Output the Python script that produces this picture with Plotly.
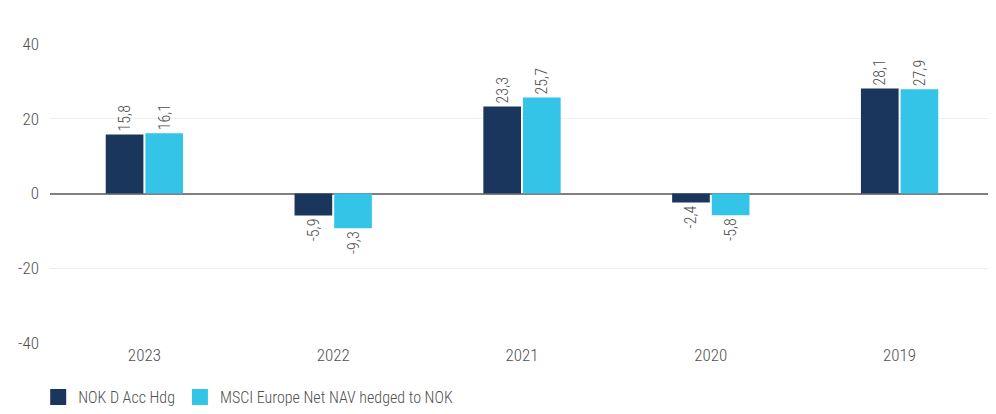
import plotly.graph_objects as go

years = ["2023", "2022", "2021", "2020", "2019"]
fund_name = "NOK D Acc Hdg"
bench_name = "MSCI Europe Net NAV hedged to NOK"
fund_vals = [15.8, -5.9, 23.3, -2.4, 28.1]
bench_vals = [16.1, -9.3, 25.7, -5.8, 27.9]
y_ticks = [-40, -20, 0, 20, 40]
y_tick_text = ["-40", "-20", "0", "20", "40"]

dark = "#1b365d"
light = "#33c4e8"
font_fam = "Roboto Condensed, Liberation Sans Narrow, DejaVu Sans Condensed, Roboto, sans-serif"
txt_col = "#505050"

fig = go.Figure()
for name, vals, col in [(fund_name, fund_vals, dark), (bench_name, bench_vals, light)]:
    fig.add_trace(go.Bar(
        x=years, y=vals, name=name, marker_color=col, marker_line_width=0,
        texttemplate="%{y:.1f}", textposition="outside", textangle=-90,
        textfont=dict(color=txt_col, size=16, family=font_fam, weight=300),
        cliponaxis=False, showlegend=False,
    ))
    fig.add_trace(go.Scatter(
        x=[None], y=[None], mode="markers", name=name,
        marker=dict(symbol="square", size=17, color=col),
    ))

fig.update_layout(
    width=988, height=406,
    margin=dict(l=42, r=1.5, t=36, b=71),
    paper_bgcolor="white", plot_bgcolor="white",
    separators=",.",
    barmode="group", bargap=0.58, bargroupgap=0.05,
    font=dict(family=font_fam, color=txt_col, size=16, weight=300),
    legend=dict(orientation="h", x=-0.0125, xanchor="left",
                yref="container", y=0.0, yanchor="bottom",
                font=dict(size=16, color=txt_col, weight=300), itemwidth=30),
    xaxis=dict(showgrid=False, showline=False, ticks="",
               tickfont=dict(size=17, color=txt_col, weight=300)),
    yaxis=dict(range=[-40, 40], tickvals=y_ticks, ticktext=y_tick_text, showgrid=True,
               gridcolor="#eeeeee", gridwidth=1, zeroline=True, zerolinecolor="#808080",
               zerolinewidth=2, ticks="", ticklabelstandoff=10,
               tickfont=dict(size=17, color=txt_col, weight=300)),
)

fig.write_html("out.html")
